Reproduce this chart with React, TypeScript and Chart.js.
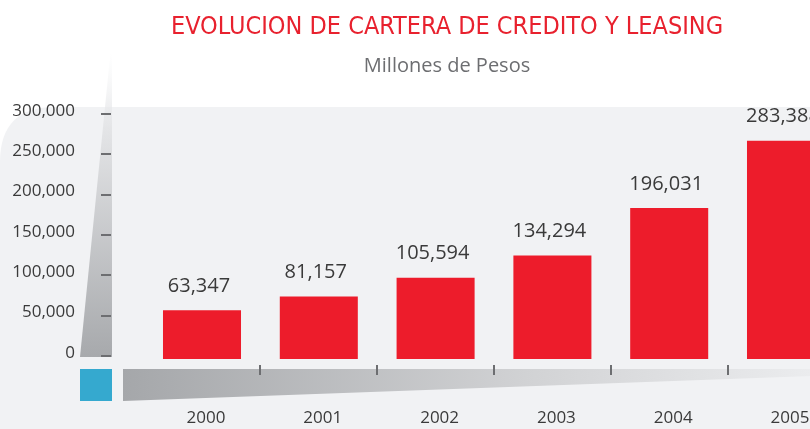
import React, { useEffect, useRef } from "react";
import { Chart, registerables } from "chart.js";

Chart.register(...registerables);

const TITLE = "EVOLUCION DE CARTERA DE CREDITO Y LEASING";
const SUBTITLE = "Millones de Pesos";
const YEARS = ["2000", "2001", "2002", "2003", "2004", "2005"];
const CARTERA = [63347, 81157, 105594, 134294, 196031, 283388];
const Y_TICKS = [0, 50000, 100000, 150000, 200000, 250000, 300000];

const CANVAS_W = 894;
const CANVAS_H = 444;
const BAR_RED = "#ed1c2b";
const TEXT_DARK = "#3a3a3a";
const MARK_GREY = "#6d6e71";
const PANEL = "#f1f2f4";
const FONT = "'Open Sans', 'Noto Sans', sans-serif";

const fmt = (v: number) => v.toLocaleString("en-US");

const backgroundPlugin = {
  id: "bgDecor",
  beforeDraw(chart: any) {
    const ctx = chart.ctx as CanvasRenderingContext2D;
    const w = chart.width;
    const h = chart.height;
    ctx.save();
    ctx.fillStyle = "#ffffff";
    ctx.fillRect(0, 0, w, h);
    const top = 107;
    const r = 55;
    ctx.fillStyle = PANEL;
    ctx.beginPath();
    ctx.moveTo(0, top + r);
    ctx.quadraticCurveTo(0, top, r, top);
    ctx.lineTo(w, top);
    ctx.lineTo(w, h);
    ctx.lineTo(0, h);
    ctx.closePath();
    ctx.fill();
    const vg = ctx.createLinearGradient(0, 52, 0, 357);
    vg.addColorStop(0, "rgba(241,242,244,0)");
    vg.addColorStop(0.25, "#e4e5e7");
    vg.addColorStop(1, "#a7a9ac");
    ctx.fillStyle = vg;
    ctx.beginPath();
    ctx.moveTo(110.5, 52);
    ctx.lineTo(112, 52);
    ctx.lineTo(112, 357);
    ctx.lineTo(80, 357);
    ctx.closePath();
    ctx.fill();
    const hg = ctx.createLinearGradient(123, 0, 810, 0);
    hg.addColorStop(0, "#a5a7aa");
    hg.addColorStop(0.6, "#d2d3d5");
    hg.addColorStop(1, "#ebecee");
    ctx.fillStyle = hg;
    ctx.beginPath();
    ctx.moveTo(123, 369);
    ctx.lineTo(w, 369);
    ctx.lineTo(w, 373);
    ctx.lineTo(123, 401);
    ctx.closePath();
    ctx.fill();
    ctx.fillStyle = "#35a9cf";
    ctx.fillRect(80, 369, 32, 32);
    ctx.restore();
  },
};

const yMarksPlugin = {
  id: "yMarks",
  beforeDatasetsDraw(chart: any) {
    const ctx = chart.ctx as CanvasRenderingContext2D;
    const ys = chart.scales.y;
    ctx.save();
    ctx.fillStyle = MARK_GREY;
    ys.ticks.forEach((t: any) => {
      const py = ys.getPixelForValue(t.value);
      ctx.fillRect(101, Math.round(py) - 1, 10, 2);
    });
    ctx.restore();
  },
};

const valueLabelsPlugin = {
  id: "valueLabels",
  afterDatasetsDraw(chart: any) {
    const ctx = chart.ctx as CanvasRenderingContext2D;
    const meta = chart.getDatasetMeta(0);
    const data = chart.data.datasets[0].data as number[];
    ctx.save();
    ctx.fillStyle = TEXT_DARK;
    ctx.font = `20px ${FONT}`;
    ctx.textAlign = "center";
    ctx.textBaseline = "middle";
    meta.data.forEach((el: any, i: number) => {
      ctx.fillText(fmt(data[i]), el.x - 3, el.y - 24);
    });
    ctx.restore();
  },
};

export default function App() {
  const ref = useRef<HTMLCanvasElement | null>(null);

  useEffect(() => {
    if (!ref.current) return;
    const chart = new Chart(ref.current, {
      type: "bar",
      data: {
        labels: YEARS,
        datasets: [
          {
            label: "Cartera",
            data: CARTERA,
            backgroundColor: BAR_RED,
            borderWidth: 0,
            barPercentage: 0.668,
            categoryPercentage: 1,
            yAxisID: "yb",
          },
        ],
      },
      options: {
        animation: false,
        responsive: false,
        devicePixelRatio: 1,
        layout: { padding: 0 },
        plugins: {
          legend: { display: false },
          tooltip: { enabled: false },
          title: {
            display: true,
            text: TITLE,
            color: "#e8212e",
            font: { family: "'Liberation Sans Narrow', 'DejaVu Sans Condensed', sans-serif", size: 25, weight: "normal", lineHeight: 1.2 },
            padding: { top: 12, bottom: 0 },
          },
          subtitle: {
            display: true,
            text: SUBTITLE,
            color: MARK_GREY,
            font: { family: FONT, size: 20, weight: "normal", lineHeight: 1.2 },
            padding: { top: 12, bottom: 22 },
          },
        },
        scales: {
          x: {
            type: "category",
            offset: true,
            grid: {
              display: true,
              offset: true,
              drawOnChartArea: false,
              drawTicks: true,
              tickLength: 10,
              lineWidth: 2,
              color: (c: any) => (c.index === 0 ? "rgba(0,0,0,0)" : MARK_GREY),
            },
            border: { display: false },
            ticks: {
              color: TEXT_DARK,
              font: { family: FONT, size: 17, lineHeight: 1.2 },
              padding: 32.8,
              labelOffset: 4,
              maxRotation: 0,
              autoSkip: false,
            },
            afterFit: (s: any) => {
              s.height = 79;
            },
          },
          y: {
            type: "linear",
            position: "left",
            min: -11152,
            max: 317225,
            grid: { display: false, drawTicks: false },
            border: { display: false },
            ticks: {
              color: TEXT_DARK,
              font: { family: FONT, size: 17, lineHeight: 1.2 },
              padding: 68.6,
              labelOffset: -3,
              callback: (v: any) => fmt(Number(v)),
            },
            afterBuildTicks: (s: any) => {
              s.ticks = Y_TICKS.map((v) => ({ value: v }));
            },
            afterFit: (s: any) => {
              s.width = 143.6;
            },
          },
          yb: {
            type: "linear",
            position: "right",
            min: -7792,
            max: 336364,
            grid: { display: false, drawTicks: false },
            border: { display: false },
            ticks: { display: false },
            afterFit: (s: any) => {
              s.width = 49.6;
            },
          },
        },
      },
      plugins: [backgroundPlugin, yMarksPlugin, valueLabelsPlugin],
    } as any);
    return () => chart.destroy();
  }, []);

  return (
    <div
      style={{
        position: "fixed",
        left: 0,
        top: 0,
        width: 810,
        height: 429,
        overflow: "hidden",
        background: "#ffffff",
      }}
    >
      <canvas
        ref={ref}
        width={CANVAS_W}
        height={CANVAS_H}
        style={{ width: CANVAS_W, height: CANVAS_H, display: "block" }}
      />
    </div>
  );
}
